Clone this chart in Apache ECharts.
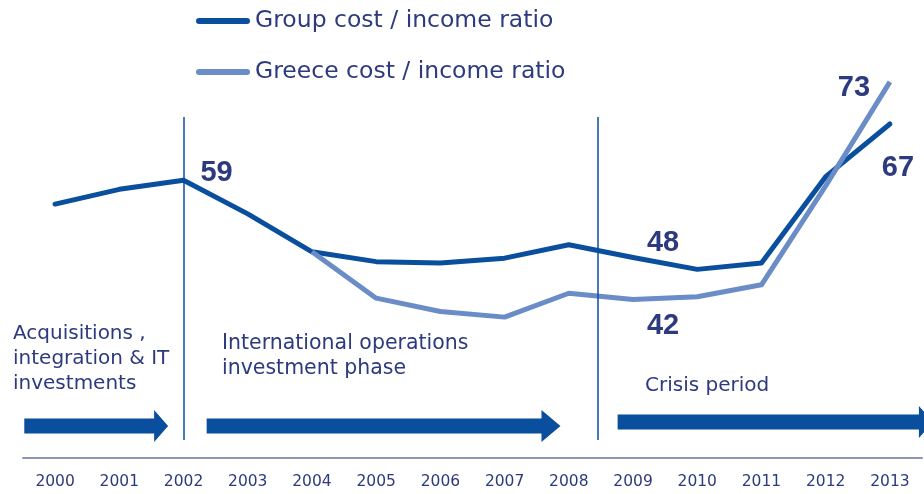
<!DOCTYPE html>
<html>
<head>
<meta charset="utf-8">
<script src="https://cdn.jsdelivr.net/npm/echarts@6/dist/echarts.min.js"></script>
<style>
  html, body { margin: 0; padding: 0; background: #fff; }
  #chart { width: 924px; height: 494px; }
</style>
</head>
<body>
<div id="chart"></div>
<script>
// Cost / income ratios, %
const years = [2000, 2001, 2002, 2003, 2004, 2005, 2006, 2007, 2008, 2009, 2010, 2011, 2012, 2013];
const groupRatio  = [55.6, 57.7, 59, 54.2, 48.8, 47.4, 47.2, 47.9, 49.8, 48, 46.3, 47.2, 59.5, 67];
const greeceRatio = [null, null, null, null, 48.8, 42.2, 40.3, 39.5, 42.9, 42, 42.4, 44.1, 58.2, 73];
const seriesNames = ['Group cost / income ratio', 'Greece cost / income ratio'];

// Values called out on the chart: [year, label offset x, label offset y]
const groupCallouts  = [[2002, 33, -7], [2009, 30, -14], [2013, 8, 44]];
const greeceCallouts = [[2009, 30, 26], [2013, -36, 6]];

// Period dividers and phases
const dividers = [2002, 2008.45];
const phases = [
  { text: 'Acquisitions ,\nintegration & IT\ninvestments', from: 1999.52, to: 2001.76 },
  { text: 'International operations\ninvestment phase', from: 2002.36, to: 2007.87 },
  { text: 'Crisis period', from: 2008.76, to: 2013.67 }
];

const NAVY = '#2d3a7e';
const DARK = '#0a4e9e';
const LIGHT = '#6a8cc7';
const FONT = 'DejaVu Sans';

function withCallouts(values, callouts) {
  return values.map((v, i) => {
    const c = callouts.find(cc => cc[0] === years[i]);
    if (v === null || !c) return [years[i], v];
    return {
      value: [years[i], v],
      label: {
        show: true, position: 'inside', offset: [c[1], c[2]],
        formatter: String(v), fontSize: 29, fontWeight: 'bold',
        fontFamily: 'Liberation Sans', color: NAVY
      }
    };
  });
}

const chart = echarts.init(document.getElementById('chart'), null, { renderer: 'canvas' });

const option = {
  animation: false,
  backgroundColor: '#fff',
  grid: { left: 23, right: 2, top: 117, bottom: 54 },
  legend: {
    orient: 'vertical', left: 196, top: 9, padding: 0,
    itemWidth: 54, itemHeight: 6, itemGap: 27,
    icon: 'path://M3,0 L51,0 A3,3 0 0 1 51,6 L3,6 A3,3 0 0 1 3,0 Z',
    textStyle: { fontFamily: FONT, fontSize: 23.5, color: NAVY, padding: [0, 0, 0, 0] },
    data: seriesNames
  },
  xAxis: {
    type: 'value', min: 1999.5, max: 2013.5, offset: 18,
    splitLine: { show: false },
    axisTick: { show: false },
    axisLine: { show: true, lineStyle: { color: '#8e95b2', width: 2 } },
    axisLabel: {
      customValues: years, margin: 16,
      formatter: v => String(v),
      fontFamily: FONT, fontSize: 15.5, color: NAVY
    }
  },
  yAxis: { type: 'value', min: 22, max: 68, show: false, splitLine: { show: false } },
  series: [
    {
      name: seriesNames[0], type: 'line',
      data: withCallouts(groupRatio, groupCallouts),
      symbol: 'circle', symbolSize: 0, showSymbol: true,
      color: DARK, lineStyle: { width: 5, color: DARK, cap: 'round', join: 'round' },
      clip: false, z: 3,
      markLine: {
        silent: true, symbol: 'none', label: { show: false },
        lineStyle: { color: DARK, width: 1.5, type: 'solid' },
        data: dividers.map(d => [{ coord: [d, 68] }, { coord: [d, 22] }])
      }
    },
    {
      name: seriesNames[1], type: 'line',
      data: withCallouts(greeceRatio, greeceCallouts),
      symbol: 'circle', symbolSize: 0, showSymbol: true, connectNulls: false,
      color: LIGHT, lineStyle: { width: 5, color: LIGHT, cap: 'butt', join: 'round' },
      clip: false, z: 4
    }
  ]
};
chart.setOption(option);

// Phase arrows and captions below the lines
const graphics = [];
const captionPos = [[13, 321], [222, 331], [645, 373]];
const captionSize = [20, 20.5, 20];
phases.forEach((p, i) => {
  const x0 = chart.convertToPixel({ xAxisIndex: 0 }, p.from);
  const x1 = chart.convertToPixel({ xAxisIndex: 0 }, p.to);
  const cy = i === 2 ? 422 : 426;
  const head = i === 0 ? 14 : (i === 1 ? 19 : 14);
  graphics.push({
    type: 'polygon',
    shape: { points: [
      [x0, cy - 7.5], [x1 - head, cy - 7.5], [x1 - head, cy - 16], [x1, cy],
      [x1 - head, cy + 16], [x1 - head, cy + 7.5], [x0, cy + 7.5]
    ] },
    style: { fill: DARK }
  });
  graphics.push({
    type: 'text', x: captionPos[i][0], y: captionPos[i][1],
    style: { text: p.text, fontFamily: FONT, fontSize: captionSize[i], lineHeight: 25, fill: NAVY }
  });
});
chart.setOption({ graphic: graphics });
</script>
</body>
</html>
